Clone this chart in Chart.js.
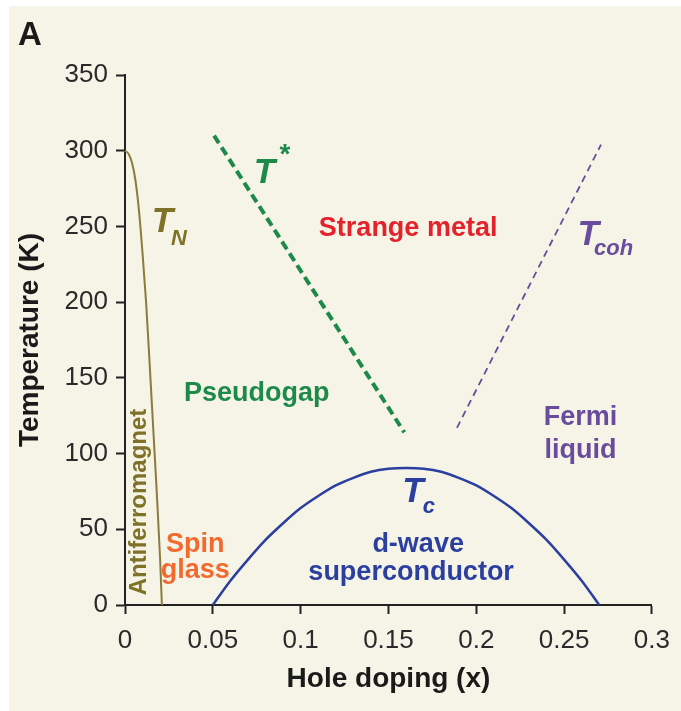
<!DOCTYPE html>
<html>
<head>
<meta charset="utf-8">
<script src="https://cdn.jsdelivr.net/npm/chart.js@4.4.1/dist/chart.umd.min.js"></script>
<style>
  html, body { margin: 0; padding: 0; background: #ffffff; }
  canvas { display: block; }
</style>
</head>
<body>
<canvas id="phaseChart" width="681" height="711"></canvas>
<script>
// axis ticks
var xTicks = [0, 0.05, 0.1, 0.15, 0.2, 0.25, 0.3];
var xTickLabels = ["0", "0.05", "0.1", "0.15", "0.2", "0.25", "0.3"];
var yTicks = [0, 50, 100, 150, 200, 250, 300, 350];

// Neel temperature (antiferromagnet boundary)
var tnDoping = [0, 0.002, 0.004, 0.006, 0.008, 0.010, 0.012, 0.014, 0.016, 0.018, 0.020, 0.021];
var tnTemp = [300, 298, 292, 280, 260, 232, 200, 160, 118, 76, 30, 0];

// pseudogap line T*
var tStarDoping = [0.0507, 0.159];
var tStarTemp = [310, 114];

// coherence line T_coh
var tCohDoping = [0.189, 0.271];
var tCohTemp = [117, 304];

// superconducting dome T_c
var tcDoping = [0.05, 0.06, 0.07, 0.08, 0.09, 0.10, 0.11, 0.12, 0.13, 0.14, 0.15, 0.16,
  0.17, 0.18, 0.19, 0.20, 0.21, 0.22, 0.23, 0.24, 0.25, 0.26, 0.27];
var tcTemp = [0, 16, 30, 43, 54, 64, 72, 79, 84, 88, 90, 90.5,
  90, 88, 84, 79, 72, 64, 54, 43, 30, 16, 0];

var FONT = "'Liberation Sans', Arial, Helvetica, sans-serif";

function toPoints(xs, ys) {
  var pts = [];
  for (var i = 0; i < xs.length; i++) {
    pts.push({ x: xs[i], y: ys[i] });
  }
  return pts;
}

// text labels placed in data units
var labels = [
  { text: "Strange metal", x: 0.1612, y: 244, color: "#e4222c", size: 27, align: "center" },
  { text: "Pseudogap", x: 0.075, y: 135, color: "#1e8a4a", size: 27, align: "center" },
  { text: "Fermi", x: 0.2593, y: 119, color: "#6a4c9c", size: 27, align: "center" },
  { text: "liquid", x: 0.2593, y: 97, color: "#6a4c9c", size: 27, align: "center" },
  { text: "d-wave", x: 0.1669, y: 35, color: "#2b3f9f", size: 27, align: "center" },
  { text: "superconductor", x: 0.1629, y: 16.5, color: "#2b3f9f", size: 27, align: "center" },
  { text: "Spin", x: 0.04, y: 35, color: "#f26a30", size: 27, align: "center" },
  { text: "glass", x: 0.04, y: 17.8, color: "#f26a30", size: 27, align: "center" },
  { text: "T", x: 0.0733, y: 279, color: "#1e8a4a", size: 35, align: "left", italic: true },
  { text: "*", x: 0.0880, y: 292, color: "#1e8a4a", size: 28, align: "left" },
  { text: "T", x: 0.0152, y: 246, color: "#7f7228", size: 35, align: "left", italic: true },
  { text: "N", x: 0.0262, y: 238, color: "#7f7228", size: 22, align: "left", italic: true },
  { text: "T", x: 0.1578, y: 68, color: "#2b3f9f", size: 35, align: "left", italic: true },
  { text: "c", x: 0.1695, y: 61, color: "#2b3f9f", size: 22, align: "left", italic: true },
  { text: "T", x: 0.2576, y: 238, color: "#6a4c9c", size: 35, align: "left", italic: true },
  { text: "coh", x: 0.2670, y: 231, color: "#6a4c9c", size: 22, align: "left", italic: true }
];

var backgroundPlugin = {
  id: "background",
  beforeDraw: function (chart) {
    var ctx = chart.ctx;
    ctx.save();
    ctx.fillStyle = "#ffffff";
    ctx.fillRect(0, 0, chart.width, chart.height);
    ctx.fillStyle = "#f5f4e7";
    ctx.fillRect(9, 6, chart.width - 9, chart.height - 6);
    ctx.restore();
  }
};

var labelPlugin = {
  id: "phaseLabels",
  afterDatasetsDraw: function (chart) {
    var ctx = chart.ctx;
    var xs = chart.scales.x;
    var ys = chart.scales.y;
    ctx.save();
    ctx.textBaseline = "alphabetic";
    labels.forEach(function (l) {
      ctx.font = (l.italic ? "italic " : "") + "bold " + l.size + "px " + FONT;
      ctx.fillStyle = l.color;
      ctx.textAlign = l.align;
      ctx.fillText(l.text, xs.getPixelForValue(l.x), ys.getPixelForValue(l.y));
    });

    // rotated Antiferromagnet label
    ctx.save();
    ctx.translate(xs.getPixelForValue(0.0079), ys.getPixelForValue(68));
    ctx.rotate(-Math.PI / 2);
    ctx.font = "bold 24px " + FONT;
    ctx.fillStyle = "#7f7228";
    ctx.textAlign = "center";
    ctx.textBaseline = "middle";
    ctx.fillText("Antiferromagnet", 0, 0);
    ctx.restore();

    // panel letter
    ctx.font = "bold 33px " + FONT;
    ctx.fillStyle = "#1a1a1a";
    ctx.textAlign = "left";
    ctx.fillText("A", 18, 45);
    ctx.restore();
  }
};

var ctx = document.getElementById("phaseChart").getContext("2d");
var phaseChart = new Chart(ctx, {
  type: "line",
  data: {
    datasets: [
      {
        label: "T_N",
        data: toPoints(tnDoping, tnTemp),
        borderColor: "#8c7b3c",
        borderWidth: 2,
        cubicInterpolationMode: "monotone",
        pointRadius: 0,
        fill: false,
        clip: false
      },
      {
        label: "T*",
        data: toPoints(tStarDoping, tStarTemp),
        borderColor: "#1e8a4a",
        borderWidth: 4,
        borderDash: [9, 5],
        pointRadius: 0,
        fill: false,
        clip: false
      },
      {
        label: "T_coh",
        data: toPoints(tCohDoping, tCohTemp),
        borderColor: "#6a4c9c",
        borderWidth: 1.8,
        borderDash: [7, 5],
        pointRadius: 0,
        fill: false,
        clip: false
      },
      {
        label: "T_c",
        data: toPoints(tcDoping, tcTemp),
        borderColor: "#2b3f9f",
        borderWidth: 2.5,
        cubicInterpolationMode: "monotone",
        pointRadius: 0,
        fill: false,
        clip: false
      }
    ]
  },
  options: {
    responsive: false,
    animation: false,
    layout: { padding: { left: 0, top: 75, right: 25, bottom: 0 } },
    plugins: {
      legend: { display: false },
      tooltip: { enabled: false }
    },
    scales: {
      x: {
        type: "linear",
        min: 0,
        max: 0.3,
        afterBuildTicks: function (scale) {
          scale.ticks = xTicks.map(function (v) { return { value: v }; });
        },
        afterFit: function (scale) {
          scale.height = 106;
        },
        ticks: {
          color: "#2a2a2a",
          font: { family: FONT, size: 26 },
          padding: 11,
          maxRotation: 0,
          callback: function (value) {
            var i = xTicks.indexOf(value);
            return i >= 0 ? xTickLabels[i] : "";
          }
        },
        grid: {
          drawOnChartArea: false,
          drawTicks: true,
          tickLength: 9,
          tickWidth: 2,
          color: "#222222"
        },
        border: { display: true, color: "#222222", width: 2 },
        title: {
          display: true,
          text: "Hole doping (x)",
          color: "#1a1a1a",
          font: { family: FONT, size: 28, weight: "bold" },
          padding: { top: 0, bottom: 15 }
        }
      },
      y: {
        type: "linear",
        min: 0,
        max: 350,
        afterBuildTicks: function (scale) {
          scale.ticks = yTicks.map(function (v) { return { value: v }; });
        },
        afterFit: function (scale) {
          scale.width = 125;
        },
        ticks: {
          color: "#2a2a2a",
          font: { family: FONT, size: 26 },
          padding: 8
        },
        grid: {
          drawOnChartArea: false,
          drawTicks: true,
          tickLength: 9,
          tickWidth: 2,
          color: "#222222"
        },
        border: { display: true, color: "#222222", width: 2 },
        title: {
          display: true,
          text: "Temperature (K)",
          color: "#1a1a1a",
          font: { family: FONT, size: 28, weight: "bold" },
          padding: { top: 13, bottom: 0 }
        }
      }
    }
  },
  plugins: [backgroundPlugin, labelPlugin]
});
</script>
</body>
</html>
